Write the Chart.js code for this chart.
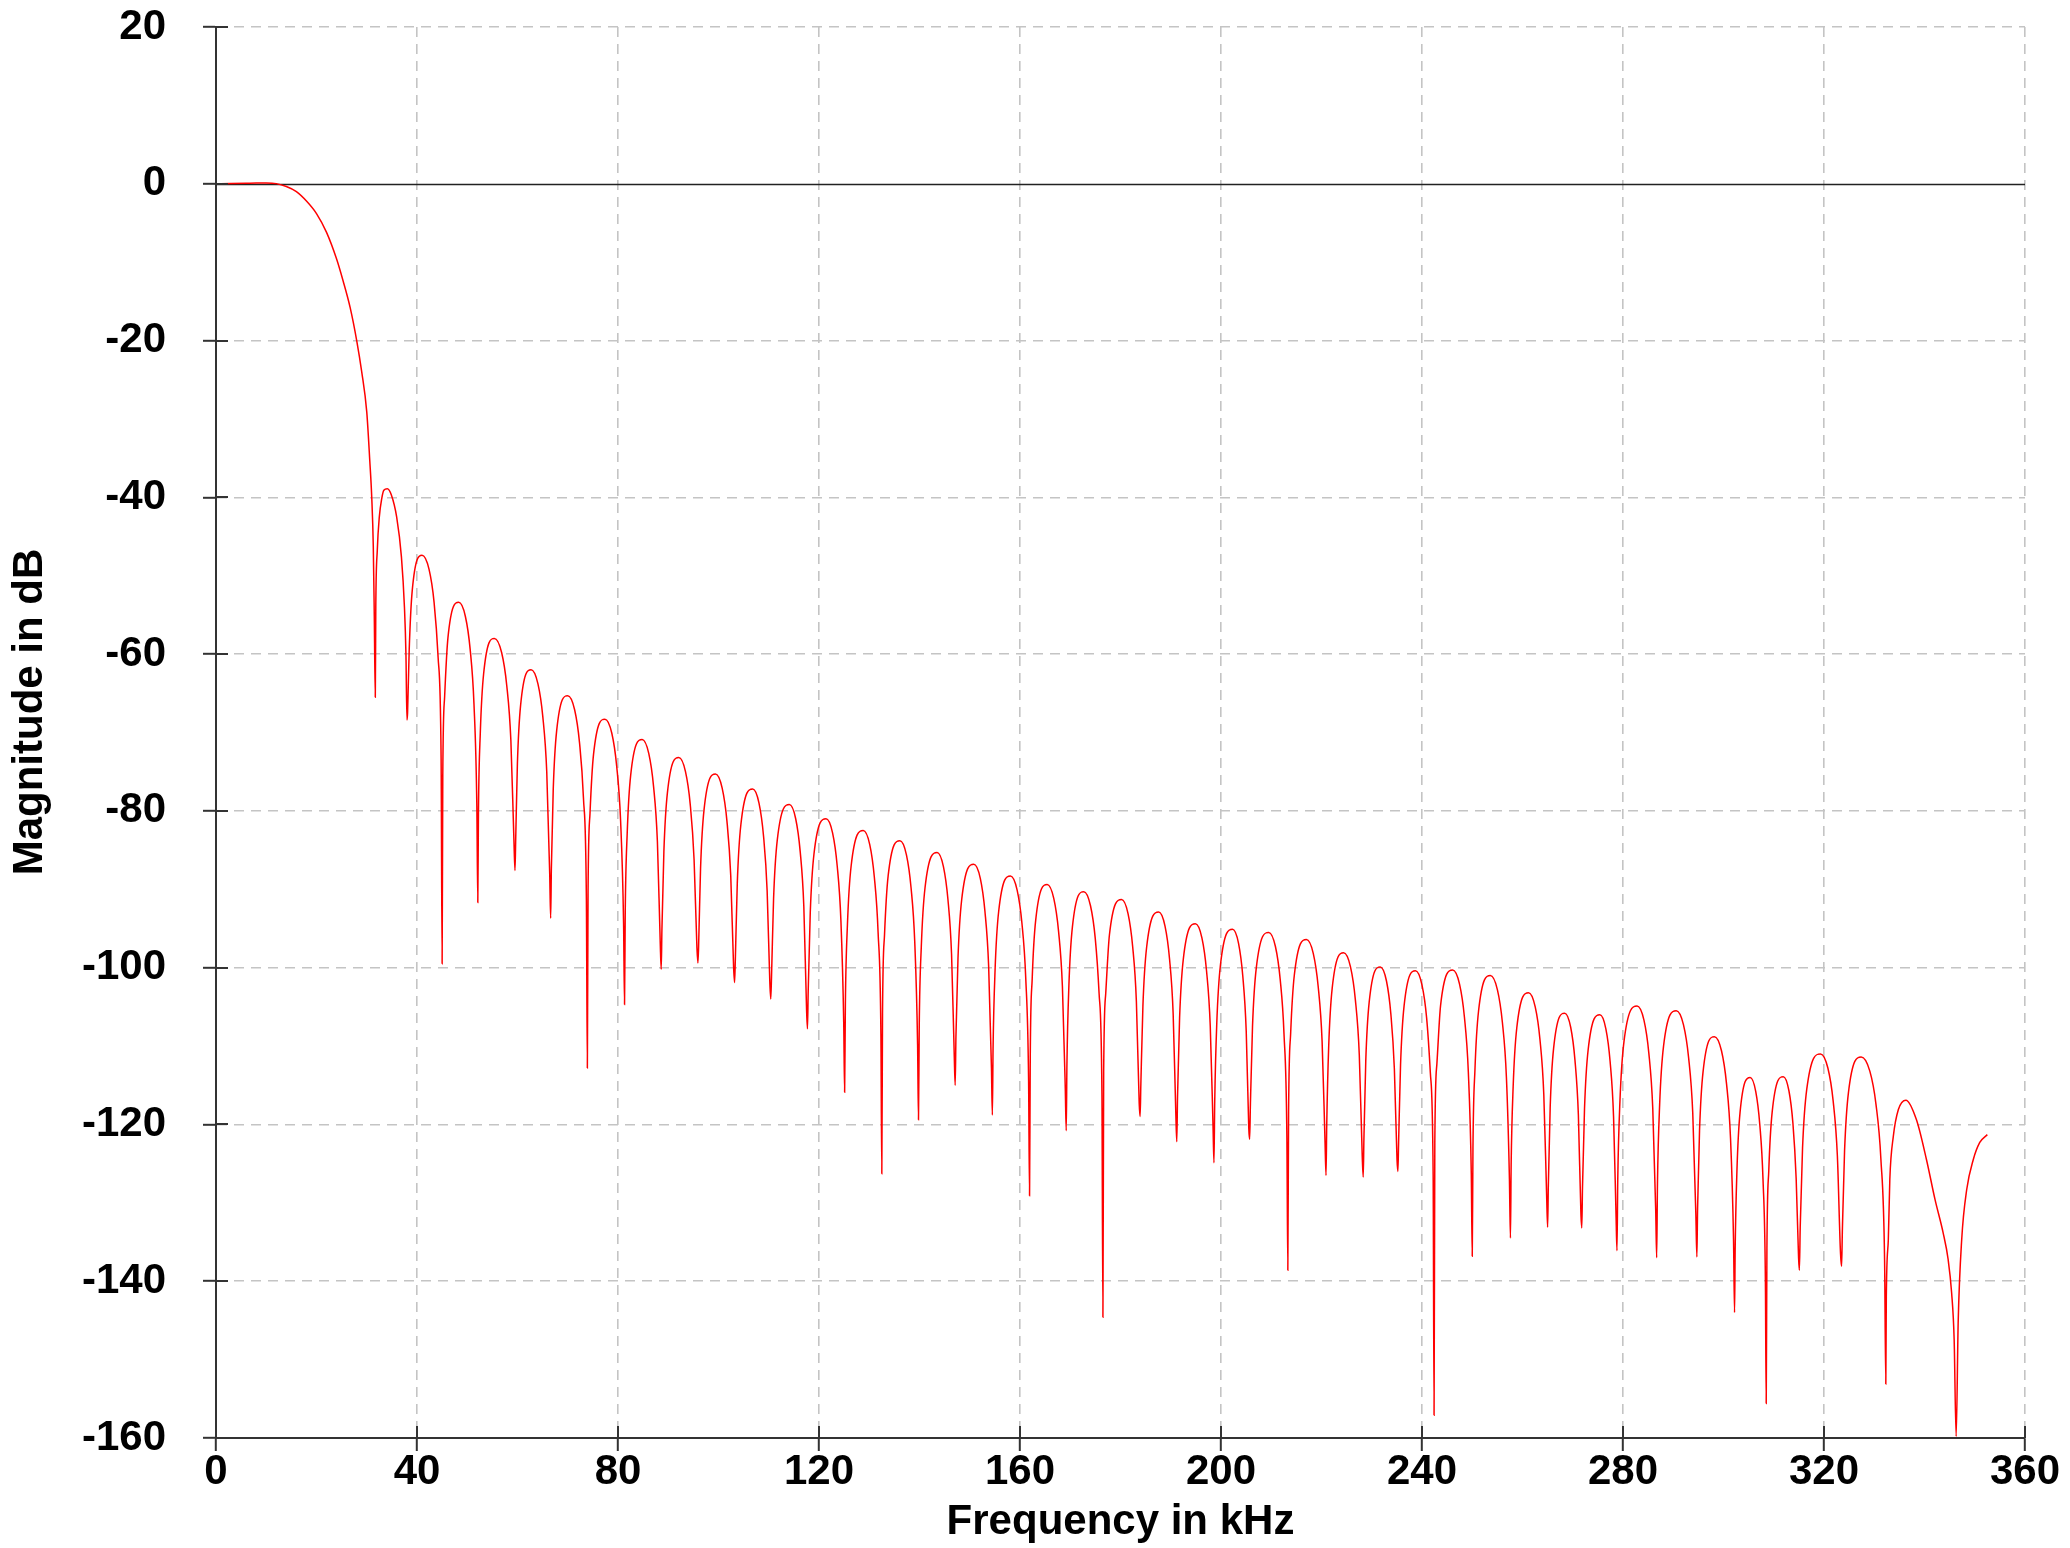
<!DOCTYPE html>
<html><head><meta charset="utf-8">
<script src="https://cdn.jsdelivr.net/npm/chart.js@4.4.1/dist/chart.umd.min.js"></script>
<style>html,body{margin:0;padding:0;background:#fff;}canvas{display:block;}</style>
</head><body>
<canvas id="c" width="2070" height="1548"></canvas>
<script>
// Frequency (kHz) of each traced point of the magnitude response
const freqKHz = [
0,3,6,8,10,12,14,16,18,20,22,24,25.3,26.7,28,29,30,30.6,31,31.3,31.5,31.7,
31.8,32.1,32.5,33,33.4,34.1,34.9,35.95,36.9,37.5,37.8,38,
38.12,38.45,39.05,41,42.4,43.4,44.2,44.8,45,
45.13,45.5,46.16,48.3,49.63,50.58,51.34,51.91,52.1,
52.23,52.6,53.26,55.4,56.84,57.86,58.68,59.3,59.5,
59.63,59.98,60.62,62.7,64.07,65.04,65.82,66.41,66.6,
66.74,67.11,67.79,70,71.37,72.34,73.12,73.71,73.9,
74.04,74.43,75.13,77.4,78.77,79.74,80.52,81.11,81.3,
81.44,81.83,82.53,84.8,86.13,87.08,87.84,88.41,88.6,
88.74,89.13,89.83,92.1,93.43,94.38,95.14,95.71,95.9,
96.04,96.43,97.13,99.4,100.73,101.68,102.44,103.01,103.2,
103.34,103.74,104.46,106.8,108.06,108.96,109.68,110.22,110.4,
110.55,110.96,111.7,114.1,115.36,116.26,116.98,117.52,117.7,
117.85,118.26,119,121.4,122.7,123.62,124.36,124.92,125.1,
125.25,125.66,126.4,128.8,130.1,131.02,131.76,132.32,132.5,
132.64,133.04,133.76,136.1,137.4,138.32,139.06,139.62,139.8,
139.95,140.36,141.1,143.5,144.76,145.66,146.38,146.92,147.1,
147.25,147.66,148.4,150.8,152.1,153.02,153.76,154.32,154.5,
154.64,155.04,155.76,158.1,159.43,160.38,161.14,161.71,161.9,
162.04,162.43,163.13,165.4,166.73,167.68,168.44,169.01,169.2,
169.34,169.73,170.43,172.7,174.03,174.98,175.74,176.31,176.5,
176.65,177.06,177.8,180.2,181.5,182.42,183.16,183.72,183.9,
184.05,184.46,185.2,187.6,188.86,189.76,190.48,191.02,191.2,
191.35,191.76,192.5,194.9,196.2,197.12,197.86,198.42,198.6,
198.75,199.16,199.9,202.3,203.49,204.34,205.02,205.53,205.7,
205.85,206.27,207.03,209.5,210.83,211.78,212.54,213.11,213.3,
213.45,213.86,214.6,217,218.37,219.34,220.12,220.71,220.9,
221.04,221.43,222.13,224.4,225.77,226.74,227.52,228.11,228.3,
228.44,228.81,229.49,231.7,232.93,233.8,234.5,235.03,235.2,
235.34,235.73,236.43,238.7,239.99,240.92,241.66,242.22,242.4,
242.55,242.96,243.7,246.1,247.47,248.44,249.22,249.81,250,
250.14,250.54,251.26,253.6,255,256,256.8,257.4,257.6,
257.74,258.14,258.86,261.2,262.53,263.48,264.24,264.81,265,
265.14,265.51,266.19,268.4,269.59,270.44,271.12,271.63,271.8,
271.94,272.34,273.06,275.4,276.59,277.44,278.12,278.63,278.8,
278.96,279.4,280.2,282.8,284.17,285.14,285.92,286.51,286.7,
286.86,287.29,288.07,290.6,292.04,293.06,293.88,294.5,294.7,
294.84,295.23,295.93,298.2,299.6,300.6,301.4,302,302.2,
302.32,302.67,303.29,305.3,306.42,307.22,307.86,308.34,308.5,
308.64,309.01,309.69,311.9,313.02,313.82,314.46,314.94,315.1,
315.27,315.73,316.57,319.3,320.77,321.82,322.66,323.29,323.5,
323.66,324.09,324.87,327.4,329.12,330.34,331.32,332.06,332.3,
332.4,332.8,333.1,333.8,334.8,336.3,338.4,340.4,342.1,343.7,344.7,345.4,345.9,346.3,
346.7,347.4,348.4,349.7,351,352.5
];
// Magnitude (dB) at each of those frequencies
const magnitudeDb = [
0,0.02,0.06,0.1,0.1,0.02,-0.35,-1,-2.2,-3.8,-6.2,-9.6,-12.4,-15.8,-20,-24,-29.1,-35.3,-40.1,-46.2,-55.1,-65.5,
-54,-46.7,-42.5,-40.1,-39.1,-38.9,-39.7,-42.5,-47.6,-54,-60,-68.4,
-67.5,-59.4,-51.9,-47.4,-49.2,-53.4,-60.4,-73.4,-99.5,
-75.4,-65.4,-57.9,-53.4,-55.2,-59.4,-66.4,-79.4,-91.7,
-80,-70,-62.5,-58,-59.8,-64,-71,-84,-87.6,
-84,-74,-66.5,-62,-63.8,-68,-75,-88,-93.7,
-87.3,-77.3,-69.8,-65.3,-67.1,-71.3,-78.3,-91.3,-112.8,
-90.3,-80.3,-72.8,-68.3,-70.1,-74.3,-81.3,-94.3,-104.7,
-92.9,-82.9,-75.4,-70.9,-72.7,-76.9,-83.9,-96.9,-100.2,
-95.2,-85.2,-77.7,-73.2,-75,-79.2,-86.2,-97.5,-99.4,
-97.3,-87.3,-79.8,-75.3,-77.1,-81.3,-88.3,-100,-101.9,
-99.2,-89.2,-81.7,-77.2,-79,-83.2,-90.2,-102,-104,
-101.2,-91.2,-83.7,-79.2,-81,-85.2,-92.2,-105.2,-107.8,
-103,-93,-85.5,-81,-82.8,-87,-94,-107,-115.9,
-104.5,-94.5,-87,-82.5,-84.3,-88.5,-95.5,-108.5,-126.3,
-105.8,-95.8,-88.3,-83.8,-85.6,-89.8,-96.8,-109.8,-119.4,
-107.3,-97.3,-89.8,-85.3,-87.1,-91.3,-98.3,-111.3,-115,
-108.8,-98.8,-91.3,-86.8,-88.6,-92.8,-99.8,-112.8,-118.8,
-110.3,-100.3,-92.8,-88.3,-90.1,-94.3,-101.3,-114.3,-129.1,
-111.4,-101.4,-93.9,-89.4,-91.2,-95.4,-102.4,-115.4,-120.8,
-112.3,-102.3,-94.8,-90.3,-92.1,-96.3,-103.3,-116.3,-144.6,
-113.3,-103.3,-95.8,-91.3,-93.1,-97.3,-104.3,-117.3,-119,
-114.9,-104.9,-97.4,-92.9,-94.7,-98.9,-105.9,-118.9,-122.2,
-116.4,-106.4,-98.9,-94.4,-96.2,-100.4,-107.4,-120.4,-124.9,
-117.1,-107.1,-99.6,-95.1,-96.9,-101.1,-108.1,-120.5,-121.9,
-117.5,-107.5,-100,-95.5,-97.3,-101.5,-108.5,-121.5,-138.6,
-118.4,-108.4,-100.9,-96.4,-98.2,-102.4,-109.4,-122.4,-126.5,
-120.1,-110.1,-102.6,-98.1,-99.9,-104.1,-111.1,-124.1,-126.7,
-121.9,-111.9,-104.4,-99.9,-101.7,-105.9,-112.9,-124.5,-126,
-122.4,-112.4,-104.9,-100.4,-102.2,-106.4,-113.4,-126.4,-157.1,
-122.3,-112.3,-104.8,-100.3,-102.1,-106.3,-113.3,-126.3,-136.8,
-123,-113,-105.5,-101,-102.8,-107,-114,-127,-134.5,
-125.2,-115.2,-107.7,-103.2,-105,-109.2,-116.2,-129.2,-133.1,
-127.8,-117.8,-110.3,-105.8,-107.6,-111.8,-118.8,-131.5,-133.2,
-128,-118,-110.5,-106,-107.8,-112,-119,-132,-136.1,
-126.9,-116.9,-109.4,-104.9,-106.7,-110.9,-117.9,-130.9,-137,
-127.5,-117.5,-110,-105.5,-107.3,-111.5,-118.5,-131.5,-136.9,
-130.8,-120.8,-113.3,-108.8,-110.6,-114.8,-121.8,-134.8,-144,
-136,-126,-118.5,-114,-115.8,-120,-127,-140,-155.6,
-135.9,-125.9,-118.4,-113.9,-115.7,-119.9,-126.9,-137,-138.6,
-133,-123,-115.5,-111,-112.8,-117,-124,-136.5,-138.1,
-133.4,-123.4,-115.9,-111.4,-113.2,-117.4,-124.4,-137.4,-153.1,
-142,-134.7,-127,-121.5,-118.1,-116.9,-119.4,-124.5,-129.6,-133.8,-137.2,-141.5,-147.4,-159.8,
-145.3,-134.7,-128.3,-124.5,-122.3,-121.3
];
const xTickValues = [0,40,80,120,160,200,240,280,320,360];
const yTickValues = [20,0,-20,-40,-60,-80,-100,-120,-140,-160];
const xTitle = 'Frequency in kHz';
const yTitle = 'Magnitude in dB';

const FONT = "'Liberation Sans', Arial, Helvetica, sans-serif";
Chart.defaults.font.family = FONT;

const n = Math.min(freqKHz.length, magnitudeDb.length);
const points = [];
for (let i = 0; i < n; i++) points.push({x: freqKHz[i], y: magnitudeDb[i]});

const extras = {
  id: 'extras',
  beforeDatasetsDraw(chart) {
    const {ctx, chartArea: a, scales: {y}} = chart;
    const y0 = Math.round(y.getPixelForValue(0)) + 0.5;
    ctx.save();
    ctx.strokeStyle = '#222';
    ctx.lineWidth = 1.3;
    ctx.beginPath();
    ctx.moveTo(a.left, y0);
    ctx.lineTo(a.right, y0);
    ctx.stroke();
    ctx.restore();
  },
  afterDraw(chart) {
    const {ctx, chartArea: a, scales: {x, y}} = chart;
    ctx.save();
    ctx.strokeStyle = '#333';
    ctx.lineWidth = 2;
    ctx.beginPath();
    yTickValues.forEach(v => {
      const py = Math.round(y.getPixelForValue(v));
      ctx.moveTo(a.left, py); ctx.lineTo(a.left + 12, py);
    });
    xTickValues.forEach(v => {
      const px = Math.round(x.getPixelForValue(v));
      ctx.moveTo(px, a.bottom); ctx.lineTo(px, a.bottom - 12);
    });
    ctx.stroke();
    ctx.fillStyle = '#000';
    ctx.font = 'bold 42px ' + FONT;
    ctx.textAlign = 'center';
    ctx.textBaseline = 'middle';
    ctx.translate(30, 712);
    ctx.rotate(-Math.PI / 2);
    ctx.fillText(yTitle, 0, 0);
    ctx.restore();
  }
};

new Chart(document.getElementById('c'), {
  type: 'line',
  data: {
    datasets: [{
      data: points,
      borderColor: '#ff0000',
      borderWidth: 1.5,
      pointRadius: 0,
      fill: false,
      cubicInterpolationMode: 'monotone'
    }]
  },
  options: {
    responsive: false,
    devicePixelRatio: 1,
    animation: false,
    layout: {padding: {top: 27, right: 45, left: 0, bottom: 0}},
    plugins: {legend: {display: false}, tooltip: {enabled: false}},
    scales: {
      x: {
        type: 'linear', min: 0, max: 360,
        afterBuildTicks: s => { s.ticks = xTickValues.map(v => ({value: v})); },
        afterFit: s => { s.height = 110; s.paddingLeft = 0; s.paddingRight = 0; },
        ticks: {color: '#000', font: {size: 42, weight: 'bold'}, padding: -4, maxRotation: 0, autoSkip: false},
        grid: {color: '#c4c4c4', lineWidth: 1.6, tickColor: '#333', tickLength: 13, tickWidth: 2},
        border: {display: true, color: '#333', width: 2, dash: [10, 7]},
        title: {display: true, text: xTitle, color: '#000', font: {size: 42, weight: 'bold'}, padding: {top: 0, bottom: 0}}
      },
      y: {
        type: 'linear', min: -160, max: 20,
        afterBuildTicks: s => { s.ticks = yTickValues.map(v => ({value: v})); },
        afterFit: s => { s.width = 216; s.paddingTop = 0; s.paddingBottom = 0; },
        ticks: {color: '#000', font: {size: 42, weight: 'bold'}, padding: 37, autoSkip: false},
        grid: {color: c => (c.tick && c.tick.value === 0) ? 'rgba(0,0,0,0)' : '#c4c4c4', lineWidth: 1.6, tickColor: '#333', tickLength: 13, tickWidth: 2},
        border: {display: true, color: '#333', width: 2, dash: [10, 7]}
      }
    }
  },
  plugins: [extras]
});
</script>
</body></html>
